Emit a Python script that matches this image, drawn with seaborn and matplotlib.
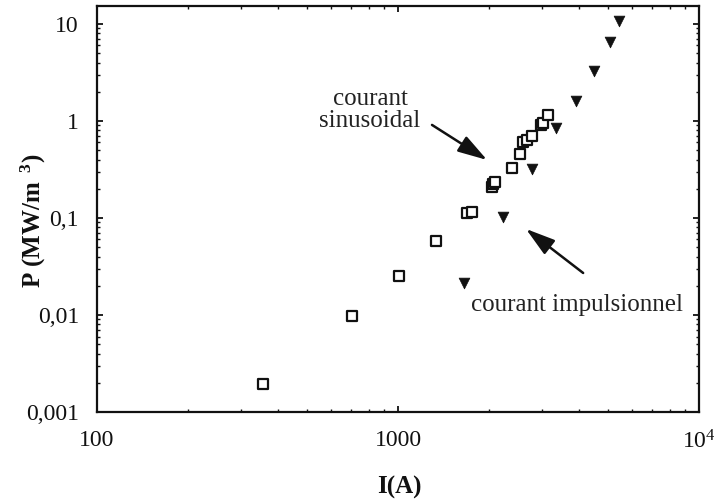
import matplotlib
matplotlib.use("Agg")
import matplotlib.pyplot as plt
import seaborn as sns
import pandas as pd
from matplotlib.ticker import FixedLocator, FixedFormatter, LogLocator, NullFormatter

# ---- data ----
sin_I = [356, 703, 1005, 1337, 1694, 1762, 2060, 2071, 2101, 2393, 2541, 2600, 2684, 2787, 2985, 3034, 3149]
sin_P = [0.00195, 0.0098, 0.0254, 0.058, 0.113, 0.115, 0.21, 0.224, 0.235, 0.327, 0.457, 0.61, 0.64, 0.70, 0.91, 0.95, 1.15]

imp_I = [1656, 2234, 2787, 3350, 3899, 4478, 5058, 5420]
imp_P = [0.0214, 0.102, 0.32, 0.85, 1.61, 3.27, 6.5, 10.7]

x_ticks = [100, 1000, 10000]
x_ticklabels = ["100", "1000", r"$10^4$"]
y_ticks = [0.001, 0.01, 0.1, 1, 10]
y_ticklabels = ["0,001", "0,01", "0,1", "1", "10"]

label_sin = "courant\nsinusoidal"
label_imp = "courant impulsionnel"
xlabel = "I(A)"
ylabel = r"P (MW/m$^{\;\;3}$)"

# ---- style ----
sns.set_theme(style="ticks")
plt.rcParams["font.family"] = ["Liberation Serif", "DejaVu Serif"]
plt.rcParams["mathtext.fontset"] = "custom"
plt.rcParams["mathtext.rm"] = "Liberation Serif"
plt.rcParams["mathtext.bf"] = "Liberation Serif:bold"
plt.rcParams["mathtext.default"] = "regular"

fig = plt.figure(figsize=(7.23, 4.99), dpi=100)
ax = fig.add_axes([97 / 723, 87 / 499, 602 / 723, 406 / 499])

df_sin = pd.DataFrame({"I": sin_I, "P": sin_P})
df_imp = pd.DataFrame({"I": imp_I, "P": imp_P})

sns.scatterplot(data=df_sin, x="I", y="P", ax=ax, marker="s", s=46,
                facecolor="white", edgecolor="#111111", linewidth=1.6, zorder=3)
sns.scatterplot(data=df_imp, x="I", y="P", ax=ax, marker="v", s=60,
                color="#111111", edgecolor="#111111", linewidth=0.5, zorder=3)

ax.set_xscale("log")
ax.set_yscale("log")
ax.set_xlim(100, 10000)
ax.set_ylim(0.001, 15.3)

ax.xaxis.set_major_locator(FixedLocator(x_ticks))
ax.xaxis.set_major_formatter(FixedFormatter(x_ticklabels))
ax.yaxis.set_major_locator(FixedLocator(y_ticks))
ax.yaxis.set_major_formatter(FixedFormatter(y_ticklabels))
ax.xaxis.set_minor_locator(LogLocator(base=10, subs=range(2, 10)))
ax.yaxis.set_minor_locator(LogLocator(base=10, subs=range(2, 10)))
ax.xaxis.set_minor_formatter(NullFormatter())
ax.yaxis.set_minor_formatter(NullFormatter())

ax.tick_params(which="both", direction="in", top=True, right=True, color="#111111")
ax.tick_params(which="major", length=4, width=1.3, labelsize=17, pad=13, labelcolor="#111111")
ax.tick_params(which="minor", length=2, width=1.0)
for sp in ax.spines.values():
    sp.set_linewidth(1.6)
    sp.set_color("#111111")

ax.set_xlabel(xlabel, fontsize=18, fontweight="bold", color="#111111")
ax.set_ylabel(ylabel, fontsize=18, fontweight="bold", color="#111111")
ax.xaxis.set_label_coords(0.503, -0.158)
ax.yaxis.set_label_coords(-0.082, 0.47)

ax.text(807, 1.3, label_sin, fontsize=18, ha="center", va="center",
        multialignment="center", linespacing=1.0, color="#222222")
ax.text(3936, 0.0127, label_imp, fontsize=18, ha="center", va="center", color="#222222")

arrow = dict(arrowstyle="-|>,head_length=1.0,head_width=0.3", color="#111111",
             lw=1.8, shrinkA=0, shrinkB=0, mutation_scale=18)
ax.annotate("", xy=(1977, 0.396), xytext=(1297, 0.91), arrowprops=arrow)
ax.annotate("", xy=(2661, 0.0771), xytext=(4122, 0.0271), arrowprops=arrow)

fig.savefig("out.png", dpi=100, facecolor="white")
